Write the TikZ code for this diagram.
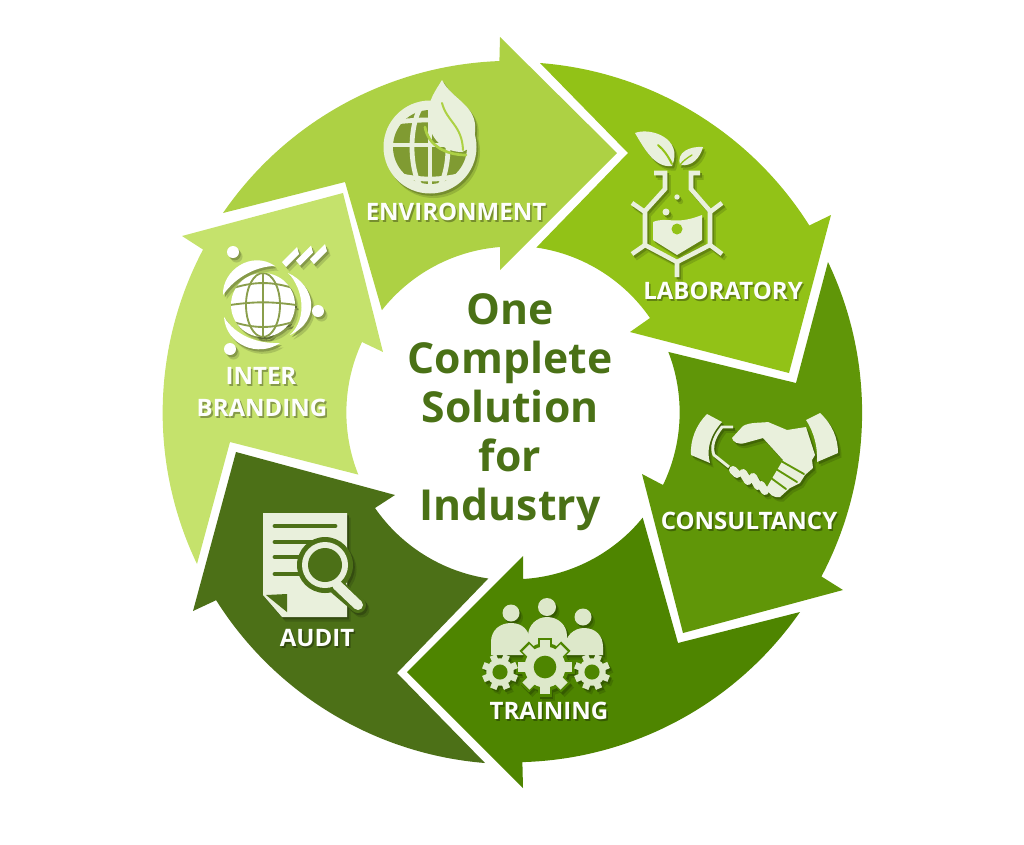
\documentclass[tikz,border=0pt]{standalone}
\usepackage{fontspec}
\setmainfont{Open Sans}

\definecolor{envc}{HTML}{ADD144}
\definecolor{labc}{HTML}{92C217}
\definecolor{conc}{HTML}{609608}
\definecolor{trnc}{HTML}{4E8500}
\definecolor{audc}{HTML}{4C7017}
\definecolor{brnc}{HTML}{C5E26C}
\definecolor{cream}{HTML}{E9F0DC}
\definecolor{midtxt}{HTML}{4A7116}
\colorlet{ico}{cream}
\colorlet{hole}{envc}

\tikzset{
  lbl/.style={text=white!92!cream,font=\bfseries\fontsize{18pt}{18pt}\selectfont,inner sep=0pt},
  lnk/.style={ico,line width=#1,line cap=butt,line join=miter},
  cut/.style={hole,line width=#1,line cap=round}
}

% label with its shadow
\newcommand\shtxt[2]{\rlap{\kern1.2pt\raisebox{-1.4pt}{\textcolor{#1!68!black}{#2}}}#2}

% icon drawn twice as shadow, then on top
\newcommand\iconpair[3]{%
  \begin{scope}[shift={(3.5,4.5)}]
    \colorlet{ico}{#1!86!black}\colorlet{hole}{#1!86!black}#2
  \end{scope}
  \begin{scope}[shift={(1.8,2.3)}]
    \colorlet{ico}{#1!68!black}\colorlet{hole}{#1!68!black}#2
  \end{scope}
  \begin{scope}
    \colorlet{ico}{#3}\colorlet{hole}{#1}#2
  \end{scope}
}

\newcommand\gearat[4]{%
  \foreach \a in {0,45,...,315} {
    \draw[ico,line width=#3*0.28] (#1,#2) -- +(\a+#4:#3);
  }
  \fill[ico] (#1,#2) circle (#3*0.76);
  \fill[hole] (#1,#2) circle (#3*0.42);
}

\newcommand\iconenv{%
  \fill[ico] (430,147) circle (46.5);
  \fill[hole!74!black] (430,147) circle (37);
  \begin{scope}
    \clip (430,147) circle (38);
    \draw[lnk=3.6] (380,124) to[bend right=8] (480,124);
    \draw[lnk=3.6] (380,145) -- (480,145);
    \draw[lnk=3.6] (380,170) to[bend left=18] (480,170);
    \draw[lnk=3.6] (430,100) -- (430,195);
    \draw[lnk=3.6] (430,147) ellipse (18 and 46);
  \end{scope}
  \fill[ico] (442,80) .. controls (452,100) and (478,105) .. (475,132)
    .. controls (474,145) and (468,150) .. (462,152)
    .. controls (445,152) and (428,140) .. (428,115)
    .. controls (428,100) and (436,90) .. (442,80) -- cycle;
  \draw[cut=2] (425,127) .. controls (428,145) and (445,155) .. (466,155);
  \draw[cut=1.5] (442,103) .. controls (447,122) and (462,125) .. (463,150);
}

\newcommand\iconlab{%
  \draw[lnk=3.4] (654,173) -- (665,173) -- (665,189) -- (645,211) -- (645,245) -- (677,262) -- (710,245) -- (710,211) -- (691,189) -- (691,173) -- (700,173);
  \draw[lnk=3.4] (645,212) -- (632,203) (645,245) -- (632,254) (710,212) -- (722,203) (710,245) -- (722,254) (677,262) -- (677,277);
  \fill[ico] (653,222) .. controls (668,216) and (674,226) .. (702,215) -- (702,240) -- (677,255) -- (653,240) -- cycle;
  \fill[hole] (677,229) circle (5.5);
  \fill[ico] (666,212) circle (3.5) (677,197) circle (2.7);
  \fill[ico] (635,133) .. controls (650,127) and (684,138) .. (672,166)
    .. controls (655,168) and (645,150) .. (635,133) -- cycle;
  \fill[ico] (703,147) .. controls (690,146) and (676,152) .. (680,165)
    .. controls (692,167) and (700,158) .. (703,147) -- cycle;
  \draw[cut=1.5] (658,145) .. controls (664,150) and (668,156) .. (672,164);
  \draw[cut=1] (692,155) .. controls (687,158) and (683,161) .. (680,165);
}

\newcommand\iconcon{%
  \fill[ico] (707,414) -- (722,422) .. controls (710,435) and (706,450) .. (710,463) -- (691,455) .. controls (690,440) and (696,425) .. (707,414) -- cycle;
  \fill[ico] (820,413) -- (806,420) .. controls (814,432) and (818,448) .. (817,462) -- (838,453) .. controls (838,438) and (832,424) .. (820,413) -- cycle;
  \draw[lnk=2.2] (733,427) -- (722,427) .. controls (713,438) and (711,448) .. (714,455) -- (729,467);
  \fill[ico] (732,438) -- (743,426) .. controls (750,422) and (760,423) .. (768,422)
    -- (787,430) -- (806,427) -- (815,455) -- (812,460) -- (813,468)
    -- (805,475) -- (800,483) -- (790,488) -- (780,497)
    .. controls (774,498) and (768,495) .. (767,487) -- (783,460)
    -- (763,438) -- (745,443) .. controls (738,445) and (733,442) .. (732,438) -- cycle;
  \draw[cut=1.4] (781,461) -- (804,474) (776,469) -- (797,482) (771,478) -- (786,489);
  \draw[ico,line width=6,line cap=round] (733,470) -- (737,474) (743,473) -- (748,481) (753,477) -- (758,486) (761,485) -- (765,491);
}

\newcommand\icontrn{%
  \fill[ico] (511,613) circle (8.5) (547,607) circle (9) (583,617) circle (8.5);
  \fill[ico] (491,655) -- (491,642) .. controls (491,630) and (500,623) .. (511,623) .. controls (522,623) and (530,630) .. (530,642) -- (530,655) -- cycle;
  \fill[ico] (528,650) -- (528,636) .. controls (528,625) and (537,617) .. (547,617) .. controls (558,617) and (567,625) .. (567,636) -- (567,650) -- cycle;
  \fill[ico] (565,655) -- (565,647) .. controls (565,636) and (574,628) .. (584,628) .. controls (596,628) and (603,636) .. (603,647) -- (603,655) -- cycle;
  \foreach \a in {0,45,...,315} {
    \draw[hole,line width=10] (545,667) -- +(\a:29.5);
  }
  \fill[hole] (545,667) circle (24);
  \gearat{545}{667}{27}{0}
  \gearat{500}{672}{18}{22}
  \gearat{592}{672}{18}{22}
}

\newcommand\iconaud{%
  \fill[ico] (263,513) -- (347,513) -- (347,617) -- (282,617) -- (263,595) -- cycle;
  \fill[hole] (266,595) -- (287,594) -- (287,612) -- cycle;
  \draw[cut=3.6] (275,526) -- (335,526) (275,542) -- (320,542) (275,557) -- (300,557) (275,574) -- (300,574);
  \draw[hole,line width=12,line cap=round] (337,587) -- (358,605);
  \fill[hole] (325,565) circle (28);
  \draw[ico,line width=7.5,line cap=round] (337,585) -- (358,605);
  \fill[ico] (325,565) circle (23);
  \fill[hole] (325,565) circle (17);
}

\newcommand\iconbrn{%
  \fill[ico] (233,252) circle (6) (318,311) circle (6) (230,349) circle (6);
  \fill[ico] (223,295) .. controls (222,270) and (252,250) .. (275,266) .. controls (258,266) and (236,276) .. (223,295) -- cycle;
  \fill[ico] (224,317) .. controls (226,345) and (258,358) .. (280,343) .. controls (258,344) and (236,336) .. (224,317) -- cycle;
  \fill[ico] (288,273) .. controls (315,285) and (322,320) .. (290,335) .. controls (308,318) and (303,288) .. (288,273) -- cycle;
  \foreach \dx in {0,14,28} {
    \fill[ico] (282+\dx,262-\dx*0.1) -- (297+\dx,247-\dx*0.1) -- (299+\dx,254-\dx*0.1) -- (286+\dx,267-\dx*0.1) -- cycle;
  }
  \fill[ico] (263,305) circle (32);
  \begin{scope}
    \clip (263,305) circle (32);
    \draw[hole!70!black,line width=1.4] (263,272) -- (263,338) (263,305) ellipse (17 and 32);
    \draw[hole!70!black,line width=1.4] (230,289) to[bend right=18] (296,289) (230,321) to[bend left=18] (296,321) (230,305) to[bend right=8] (296,305);
  \end{scope}
}

\begin{document}
\begin{tikzpicture}[x=0.75pt,y=0.75pt,yscale=-1]
  \useasboundingbox (0,0) rectangle (1024,844);

  % the six arrows, clockwise from the top
  \fill[envc] (223,213) arc[start angle=-145.5,end angle=-92.1,radius=351]
    -- (500,37) -- (617,153) -- (500,270) -- (500,247)
    arc[start angle=-94.5,end angle=-141.8,radius=167] -- (345,182) -- cycle;
  \fill[labc] (540,63) arc[start angle=-85.6,end angle=-32.2,radius=350]
    -- (831,215) -- (789,373) -- (630,332) -- (650,318)
    arc[start angle=-34.6,end angle=-81.8,radius=167] -- (628,153) -- cycle;
  \fill[conc] (828,262) arc[start angle=-25.5,end angle=27.9,radius=350]
    -- (843,590) -- (683,633) -- (642,474) -- (663,485)
    arc[start angle=25.8,end angle=-21.2,radius=167] -- (796,383) -- cycle;
  \fill[trnc] (800,612) arc[start angle=34.8,end angle=88.4,radius=350]
    -- (523,788) -- (407,672) -- (523,556) -- (523,579)
    arc[start angle=86.6,end angle=39.1,radius=167] -- (678,643) -- cycle;
  \fill[audc] (485,763) arc[start angle=94.6,end angle=147.8,radius=351]
    -- (193,611) -- (236,452) -- (395,495) -- (375,508)
    arc[start angle=145.3,end angle=98.5,radius=168] -- (397,673) -- cycle;
  \fill[brnc] (197,564) arc[start angle=154.4,end angle=207.8,radius=350]
    -- (182,236) -- (343,193) -- (383,352) -- (362,342)
    arc[start angle=-155,end angle=-201.8,radius=167] -- (230,442) -- cycle;

  \iconpair{envc}{\iconenv}{cream}
  \iconpair{labc}{\iconlab}{cream}
  \iconpair{conc}{\iconcon}{cream}
  \iconpair{trnc}{\icontrn}{cream!92!trnc}
  \iconpair{audc}{\iconaud}{cream}
  \iconpair{brnc}{\iconbrn}{white}

  \foreach \id / \x / \y / \col / \txt in {
      lblenv/456/213/envc/ENVIRONMENT,
      lbllab/723/292/labc/LABORATORY,
      lblcon/749/522/conc/CONSULTANCY,
      lbltrn/549/712/trnc/TRAINING,
      lblaud/317/639/audc/AUDIT,
      lblint/261/377/brnc/INTER,
      lblbrn/262/409/brnc/BRANDING} {
    \node[lbl] (\id) at (\x,\y) {\shtxt{\col}{\txt}};
  }

  \node[text=midtxt,align=center,font=\bfseries\fontsize{32pt}{36.75pt}\selectfont,inner sep=0pt] (mid) at (510,412)
    {One\\Complete\\Solution\\for\\Industry};
\end{tikzpicture}
\end{document}
